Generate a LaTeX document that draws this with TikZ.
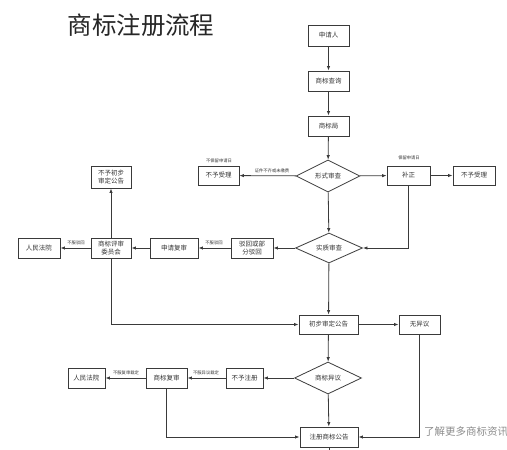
\documentclass[tikz,border=0pt]{standalone}
\usepackage{fontspec}
\usepackage{tikz}
\usetikzlibrary{arrows.meta,positioning,shapes.geometric}
\newfontfamily\cjk{Noto Sans CJK SC}
\definecolor{linegray}{HTML}{3A3A3A}
\tikzset{
  box/.style={draw=linegray, line width=0.8pt, align=center, inner sep=1pt, minimum height=19pt, font=\cjk\fontsize{6.5}{7.5}\selectfont, text=black!80},
  decide/.style={diamond, draw=linegray, line width=0.8pt, aspect=2, inner sep=0pt, font=\cjk\fontsize{6.5}{7.5}\selectfont, text=black!80},
  note/.style={font=\cjk\fontsize{4.3}{5}\selectfont, text=black!80, inner sep=0.5pt},
  arrow/.style={-{Latex[length=4.5pt,width=3.4pt]}, line width=0.8pt, draw=linegray},
  plainline/.style={line width=0.8pt, draw=linegray}
}
\begin{document}
\begin{tikzpicture}[x=1pt,y=-1pt]
\useasboundingbox (0,0) rectangle (507,450);
\node[font=\cjk\fontsize{24.5}{26}\selectfont, text=black!85] (title) at (141,25) {商标注册流程};
% main column
\node[box, minimum width=41pt, minimum height=21pt] (apply) at (328.5,35.5) {申请人};
\node[box, minimum width=41pt, minimum height=20pt] (query) at (328.5,81) {商标查询};
\node[box, minimum width=41pt, minimum height=20pt] (office) at (328.5,126) {商标局};
\node[decide, minimum width=64pt, minimum height=32pt] (formal) at (328,176) {形式审查};
\node[box, minimum width=41pt] (rejectA) at (218.5,175.5) {不予受理};
\node[box, minimum width=43pt] (amend) at (408.5,175.5) {补正};
\node[box, minimum width=42pt] (rejectB) at (474,175.5) {不予受理};
\node[decide, minimum width=67pt, minimum height=30pt] (substance) at (329,248) {实质审查};
\node[box, minimum width=42pt, minimum height=20pt] (partial) at (252,248) {驳回或部\\分驳回};
\node[box, minimum width=48pt, minimum height=20pt] (review) at (174,248) {申请复审};
\node[box, minimum width=40pt, minimum height=20pt] (board) at (111,248) {商标评审\\委员会};
\node[box, minimum width=42pt, minimum height=20pt] (courtA) at (39,248) {人民法院};
\node[box, minimum width=40pt, minimum height=22pt] (noprelim) at (111,177) {不予初步\\审定公告};
\node[box, minimum width=59pt] (prelim) at (328.5,324.5) {初步审定公告};
\node[box, minimum width=41pt] (noobject) at (419.5,324.5) {无异议};
\node[decide, minimum width=67pt, minimum height=32pt] (oppose) at (328,378) {商标异议};
\node[box, minimum width=37pt, minimum height=20pt] (noreg) at (244.5,378) {不予注册};
\node[box, minimum width=41pt, minimum height=20pt] (rereview) at (166.5,378) {商标复审};
\node[box, minimum width=37pt, minimum height=20pt] (courtB) at (86.5,378) {人民法院};
\node[box, minimum width=58pt, minimum height=20pt] (regpub) at (329,437) {注册商标公告};
\coordinate (stub) at (329,450);
% notes
\node[note] (keepno) at (219,161) {不保留申请日};
\node[note] (keep) at (409,158) {保留申请日};
\node[note] (missing) at (272,170.5) {证件不齐或未缴费};
\node[note] (appealA) at (214,243) {不服驳回};
\node[note] (appealB) at (76,243) {不服驳回};
\node[note] (appealC) at (206,373) {不服异议裁定};
\node[note] (appealD) at (126,373) {不服复审裁定};
\node[font=\cjk\fontsize{10.5}{12}\selectfont, text=black!45] (more) at (466,432) {了解更多商标资讯};
% connectors
\draw[arrow] (apply) -- (query);
\draw[arrow] (query) -- (office);
\draw[arrow] (office) -- (formal);
\draw[arrow] (formal) -- (rejectA);
\draw[arrow] (formal) -- (amend);
\draw[arrow] (amend) -- (rejectB);
\draw[arrow] (formal) -- (substance);
\draw[arrow] (amend.south) |- (substance.east);
\draw[arrow] (substance) -- (partial);
\draw[arrow] (partial) -- (review);
\draw[arrow] (review) -- (board);
\draw[arrow] (board) -- (courtA);
\draw[arrow] (board) -- (noprelim);
\draw[arrow] (substance) -- (prelim);
\draw[arrow] (board.south) |- (prelim.west);
\draw[arrow] (prelim) -- (noobject);
\draw[arrow] (prelim) -- (oppose);
\draw[arrow] (oppose) -- (noreg);
\draw[arrow] (noreg) -- (rereview);
\draw[arrow] (rereview) -- (courtB);
\draw[arrow] (oppose) -- (regpub);
\draw[arrow] (rereview.south) |- (regpub.west);
\draw[arrow] (noobject.south) |- (regpub.east);
\draw[plainline] (regpub) -- (stub);
\end{tikzpicture}
\end{document}
